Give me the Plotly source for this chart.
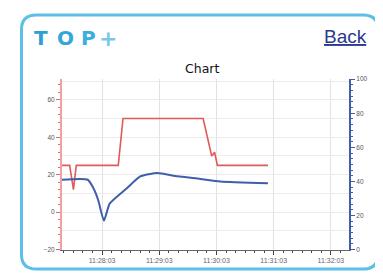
import plotly.graph_objects as go

# ---------------- data ----------------
red_times = ["2024-01-01 11:27:21", "2024-01-01 11:27:29", "2024-01-01 11:27:33",
             "2024-01-01 11:27:36", "2024-01-01 11:28:20", "2024-01-01 11:28:25",
             "2024-01-01 11:29:49", "2024-01-01 11:29:58", "2024-01-01 11:30:01",
             "2024-01-01 11:30:04", "2024-01-01 11:30:57"]
red_values = [25, 25, 12, 25, 25, 50, 50, 30, 32, 25, 25]

blue_times = ["2024-01-01 11:27:21", "2024-01-01 11:27:48", "2024-01-01 11:27:54",
              "2024-01-01 11:27:59", "2024-01-01 11:28:05", "2024-01-01 11:28:11",
              "2024-01-01 11:28:29", "2024-01-01 11:28:43", "2024-01-01 11:29:01",
              "2024-01-01 11:29:22", "2024-01-01 11:29:46", "2024-01-01 11:30:07",
              "2024-01-01 11:30:57"]
blue_values = [41, 41, 36, 29, 17, 27, 36, 43, 45, 43, 41.5, 40, 39]

x_tick_vals = ["2024-01-01 11:28:03", "2024-01-01 11:29:03", "2024-01-01 11:30:03",
               "2024-01-01 11:31:03", "2024-01-01 11:32:03"]
x_tick_text = ["11:28:03", "11:29:03", "11:30:03", "11:31:03", "11:32:03"]
x_range = ["2024-01-01 11:27:21", "2024-01-01 11:32:22"]

left_ticks = [-20, 0, 20, 40, 60]
right_ticks = [0, 20, 40, 60, 80, 100]

# ---------------- layout helpers ----------------
OFF = 8                      # page body margin
W, H = 383 - OFF, 276 - OFF
def px(x): return (x - OFF) / W
def py(y): return 1 - (y - OFF) / H

fig = go.Figure()
fig.add_trace(go.Scatter(x=red_times, y=red_values, mode="lines",
                         line=dict(color="#e05a5a", width=1.6), yaxis="y",
                         hoverinfo="skip", showlegend=False))
fig.add_trace(go.Scatter(x=blue_times, y=blue_values, mode="lines",
                         line=dict(color="#3f5fa8", width=2, shape="spline", smoothing=0.5),
                         yaxis="y2", hoverinfo="skip", showlegend=False))
# invisible trace for horizontal grid axis
fig.add_trace(go.Scatter(x=[x_range[0]], y=[0], yaxis="y3", mode="markers",
                         marker=dict(opacity=0), hoverinfo="skip", showlegend=False))

# rounded frame
x0, y0, x1, y1, r = 21.5, 11, 378, 272, 15
rx, ry = r / W, r / H
path = (f"M {px(x0)+rx},{py(y0)} L {px(x1)-rx},{py(y0)} Q {px(x1)},{py(y0)} {px(x1)},{py(y0)-ry} "
        f"L {px(x1)},{py(y1)+ry} Q {px(x1)},{py(y1)} {px(x1)-rx},{py(y1)} "
        f"L {px(x0)+rx},{py(y1)} Q {px(x0)},{py(y1)} {px(x0)},{py(y1)+ry} "
        f"L {px(x0)},{py(y0)-ry} Q {px(x0)},{py(y0)} {px(x0)+rx},{py(y0)} Z")

tick_font = dict(family="Liberation Sans, Arial", size=6.5, color="#555")

def ann(text, x, y, size, color, family="DejaVu Sans"):
    return dict(text=text, x=px(x), y=py(y), xref="paper", yref="paper",
                xanchor="center", yanchor="middle", showarrow=False,
                font=dict(family=family, size=size, color=color))

fig.update_layout(
    width=W, height=H, autosize=False,
    margin=dict(l=0, r=0, t=0, b=0),
    paper_bgcolor="white", plot_bgcolor="white",
    shapes=[dict(type="path", path=path, xref="paper", yref="paper",
                 line=dict(color="#5cc0e6", width=3), layer="above")],
    xaxis=dict(type="date", domain=[px(62), px(349)], range=x_range,
               tickmode="array", tickvals=x_tick_vals, ticktext=x_tick_text,
               ticks="outside", ticklen=4, tickcolor="#444", tickwidth=1,
               showline=True, linecolor="#666", linewidth=1,
               showgrid=True, gridcolor="#e2e2e2", gridwidth=1, zeroline=False,
               minor=dict(tickmode="linear", tick0="2024-01-01 11:28:03", dtick=10000,
                          ticks="outside", ticklen=2, tickcolor="#444", showgrid=False),
               tickfont=dict(family="Liberation Sans, Arial", size=7, color="#666"),
               fixedrange=True),
    yaxis=dict(domain=[py(252), py(77)], range=[-20, 71], side="left",
               tickmode="array", tickvals=left_ticks,
               ticks="outside", ticklen=4, tickcolor="#e06a6a",
               showline=True, linecolor="#f0a0a0", linewidth=2,
               showgrid=False, zeroline=False,
               minor=dict(tickmode="linear", tick0=0, dtick=4, ticks="outside",
                          ticklen=2, tickcolor="#e06a6a", showgrid=False),
               tickfont=tick_font),
    yaxis2=dict(overlaying="y", side="right", range=[0, 100], anchor="x",
                tickmode="array", tickvals=right_ticks,
                ticks="outside", ticklen=4, tickcolor="#3f5fa8",
                showline=True, linecolor="#3f5fa8", linewidth=2,
                showgrid=False, zeroline=False,
                minor=dict(tickmode="linear", tick0=0, dtick=10/3, ticks="outside",
                           ticklen=2, tickcolor="#3f5fa8", showgrid=False),
                tickfont=tick_font),
    yaxis3=dict(overlaying="y", side="left", range=[-20, 71], anchor="x",
                tickmode="linear", tick0=0, dtick=10, showticklabels=False,
                ticks="", showline=False, showgrid=True, gridcolor="#ececec",
                zeroline=False),
    annotations=[
        ann("Chart", 202, 66, 12.5, "#111"),
        ann("<u>Back</u>", 345, 33, 19, "#2b3a8f", "Liberation Sans, Arial"),
        ann("<b>T</b>", 41, 35, 20, "#2f9fd3"),
        ann("<b>O</b>", 65, 35, 20, "#34a6d8"),
        ann("<b>P</b>", 88, 35, 20, "#3aaedc"),
        ann("<b>+</b>", 108, 35, 22, "#7cc6e6"),
    ],
)

fig.write_html("out.html")
